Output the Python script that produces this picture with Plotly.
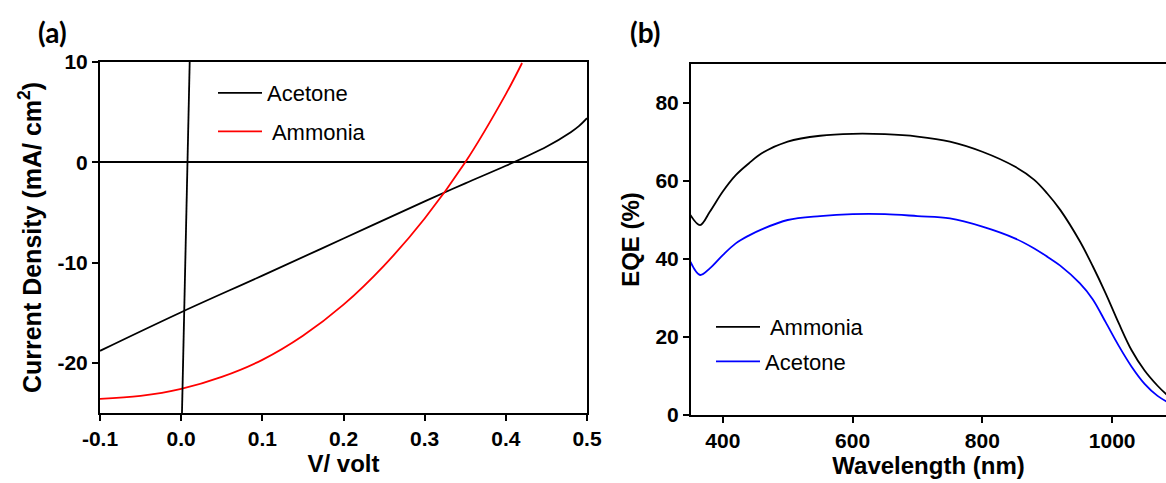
import plotly.graph_objects as go

# ---------------- Data: panel (a) J-V curves ----------------
v_acetone = [-0.1, 0.0, 0.1, 0.2, 0.3, 0.35, 0.4, 0.45, 0.48, 0.49, 0.5]
j_acetone = [-18.8, -14.95, -11.3, -7.6, -3.9, -2.1, -0.35, 1.55, 3.0, 3.6, 4.4]

v_ammonia = [-0.1, -0.05, 0.0, 0.05, 0.1, 0.15, 0.2, 0.25, 0.3, 0.35, 0.4, 0.42]
j_ammonia = [-23.6, -23.3, -22.6, -21.4, -19.7, -17.3, -14.2, -10.3, -5.6, 0.0, 6.8, 9.9]

v_dark = [0.001, 0.0105]
j_dark = [-25.0, 10.0]

# ---------------- Data: panel (b) EQE spectra ----------------
wl = [350, 365, 380, 400, 420, 440, 460, 500, 550, 600, 650, 700, 750, 800, 850, 880, 900, 920,
      950, 970, 990, 1010, 1030, 1050, 1070, 1090]
eqe_ammonia = [51.3, 48.7, 52.1, 57.3, 61.5, 64.5, 67.1, 70.1, 71.6, 72.1, 72.0, 71.4, 70.1, 67.5,
               63.7, 60.3, 56.8, 52.6, 44.6, 38.2, 31.2, 23.6, 16.6, 11.4, 7.5, 4.3]
eqe_acetone = [39.3, 35.9, 37.6, 41.0, 44.0, 46.0, 47.6, 50.0, 51.0, 51.5, 51.5, 51.0, 50.4, 48.3,
               45.3, 42.7, 40.6, 38.3, 33.8, 29.7, 23.8, 17.8, 12.4, 8.0, 4.9, 2.9]

xticks_a = [-0.1, 0.0, 0.1, 0.2, 0.3, 0.4, 0.5]
xticklabels_a = ["-0.1", "0.0", "0.1", "0.2", "0.3", "0.4", "0.5"]
yticks_a = [-20, -10, 0, 10]
yticklabels_a = ["-20", "-10", "0", "10"]
xticks_b = [400, 600, 800, 1000]
yticks_b = [0, 20, 40, 60, 80]

# ---------------- Figure ----------------
W, H = 1166, 483
ml, mr, mt, mb = 100, 0, 62, 68
pw = W - ml - mr
ph = H - mt - mb

def px_x(p):
    return (p - ml) / pw

def px_y(p):
    return 1 - (p - mt) / ph

TICKFONT = dict(family="Liberation Sans, Arial", size=21, color="black", weight="bold")
TITLEFONT = dict(family="Liberation Sans, Arial", size=24, color="black", weight="bold")
YTITLEFONT = dict(family="Liberation Sans, Arial", size=25, color="black", weight="bold")
LEGFONT = dict(family="Liberation Sans, Arial", size=22, color="black")

fig = go.Figure()

fig.add_trace(go.Scatter(x=v_acetone, y=j_acetone, mode="lines", name="Acetone",
                         line=dict(color="black", width=1.8, shape="spline"), legendgroup="a1",
                         xaxis="x", yaxis="y", legend="legend"))
fig.add_trace(go.Scatter(x=v_ammonia, y=j_ammonia, mode="lines", name=" Ammonia",
                         line=dict(color="red", width=1.8, shape="spline"), legendgroup="a2",
                         xaxis="x", yaxis="y", legend="legend"))
fig.add_trace(go.Scatter(x=v_dark, y=j_dark, mode="lines", name="dark",
                         line=dict(color="black", width=1.8), showlegend=False,
                         xaxis="x", yaxis="y"))

fig.add_trace(go.Scatter(x=wl, y=eqe_ammonia, mode="lines", name=" Ammonia",
                         line=dict(color="black", width=1.8, shape="spline"), legendgroup="b1",
                         xaxis="x2", yaxis="y2", legend="legend2"))
fig.add_trace(go.Scatter(x=wl, y=eqe_acetone, mode="lines", name="Acetone",
                         line=dict(color="blue", width=1.8, shape="spline"), legendgroup="b2",
                         xaxis="x2", yaxis="y2", legend="legend2"))

axis_common = dict(showgrid=False, showline=True, linecolor="black", linewidth=2,
                   ticks="outside", ticklen=6, tickwidth=1.5, tickcolor="black",
                   tickfont=TICKFONT, automargin=False)

fig.update_layout(
    width=W, height=H,
    margin=dict(l=ml, r=mr, t=mt, b=mb),
    paper_bgcolor="white", plot_bgcolor="white",
    xaxis=dict(domain=[0, px_x(587)], range=[-0.1, 0.5], tickvals=xticks_a, ticktext=xticklabels_a,
               mirror=True, zeroline=False, anchor="y",
               title=dict(text="V/ volt", font=TITLEFONT, standoff=6), **axis_common),
    yaxis=dict(domain=[px_y(413), px_y(62)], range=[-25, 10], tickvals=yticks_a, ticktext=yticklabels_a,
               mirror=True, zeroline=True, zerolinecolor="black", zerolinewidth=1.5, anchor="x",
               title=dict(text="Current Density (mA/ cm<sup>2</sup>)", font=YTITLEFONT, standoff=9),
               **axis_common),
    xaxis2=dict(domain=[px_x(691), 1], range=[351, 1083], tickvals=xticks_b,
                mirror=True, zeroline=False, anchor="y2",
                title=dict(text="Wavelength (nm)", font=TITLEFONT, standoff=6), **axis_common),
    yaxis2=dict(domain=[px_y(415), px_y(64)], range=[0, 90], tickvals=yticks_b,
                mirror=False, zeroline=False, anchor="x2",
                title=dict(text="EQE (%)", font=TITLEFONT, standoff=9), **axis_common),
    legend=dict(x=px_x(213), y=px_y(72), xanchor="left", yanchor="top", font=LEGFONT,
                bgcolor="rgba(0,0,0,0)", tracegroupgap=7, itemwidth=44),
    legend2=dict(x=px_x(711), y=px_y(306), xanchor="left", yanchor="top", font=LEGFONT,
                 bgcolor="rgba(0,0,0,0)", tracegroupgap=3, itemwidth=44),
    showlegend=True,
    annotations=[
        dict(text="(a)", x=px_x(52), y=px_y(32), xref="paper", yref="paper", showarrow=False,
             xanchor="center", yanchor="middle",
             font=dict(family="Lato, Open Sans", size=28, color="black", weight="bold")),
        dict(text="(b)", x=px_x(645), y=px_y(32), xref="paper", yref="paper", showarrow=False,
             xanchor="center", yanchor="middle",
             font=dict(family="Lato, Open Sans", size=28, color="black", weight="bold")),
    ],
)

fig.write_html("out.html", config={"displayModeBar": False},
               post_script="document.body.style.margin='0';document.body.style.padding='0';")
